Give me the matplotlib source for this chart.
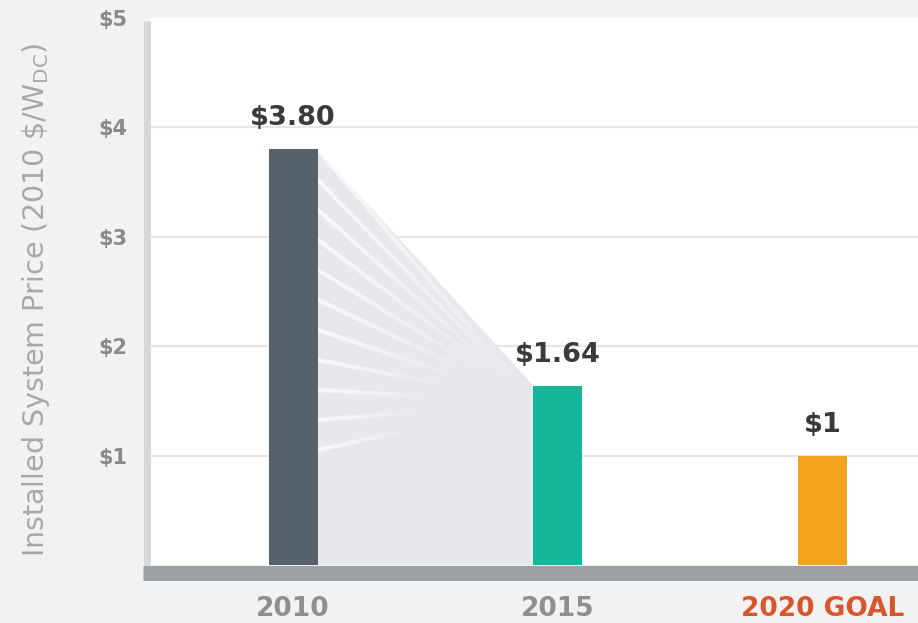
import numpy as np
import matplotlib
matplotlib.use("Agg")
import matplotlib.pyplot as plt
from matplotlib.collections import LineCollection
from matplotlib.lines import Line2D

# Installed PV system price, 2010 $/W_DC
categories = ["2010", "2015", "2020 GOAL"]
prices = [3.80, 1.64, 1.00]
value_labels = ["$3.80", "$1.64", "$1"]
bar_colors = ["#56616b", "#14b79a", "#f5a21f"]
tick_colors = ["#8e8f91", "#8e8f91", "#d9552c"]
y_ticks = [1, 2, 3, 4, 5]
y_tick_labels = ["$1", "$2", "$3", "$4", "$5"]

W, H = 918, 623
fig = plt.figure(figsize=(W / 100, H / 100), dpi=100)
fig.patch.set_facecolor("#f2f2f2")

left, right, top, bottom = 150, 918, 18, 565
ax = fig.add_axes([left / W, 1 - bottom / H, (right - left) / W, (bottom - top) / H])
ax.set_facecolor("white")

x = np.arange(len(categories))
bar_w = 0.185
ax.set_xlim(-0.54, 2.36)
ax.set_ylim(0, 4.97)

# gridlines
for t in y_ticks[:-1]:
    ax.axhline(t, color="#e6e6e6", lw=1.6, zorder=0)

# shaded drop between 2010 and 2015
x0 = x[0] + bar_w / 2
x1 = x[1] - bar_w / 2
ax.fill([x0, x1, x1, x0], [prices[0], prices[1], 0, 0],
        color="#e6e8eb", lw=0, zorder=1)

# fading light streaks fanning out from the 2010 bar
starts = np.linspace(prices[0], 1.05, 11)
target = (x1, prices[1] - 0.15)
segs, cols = [], []
n = 40
for i, s in enumerate(starts):
    frac = 1.0 - 0.55 * i / (len(starts) - 1)
    xs = np.linspace(x0, x0 + (target[0] - x0) * frac, n + 1)
    ys = s + (target[1] - s) * (xs - x0) / (target[0] - x0)
    for k in range(n):
        segs.append([(xs[k], ys[k]), (xs[k + 1], ys[k + 1])])
        a = 0.75 * (1 - k / n)
        cols.append((1, 1, 1, a))
ax.add_collection(LineCollection(segs, colors=cols, linewidths=3.0, zorder=2))

# bars
ax.bar(x, prices, width=bar_w, color=bar_colors, zorder=3)

value_font = dict(family="DejaVu Sans", fontweight="bold", fontsize=19.5, color="#3a3a3a")
for xi, p, lab in zip(x, prices, value_labels):
    ax.annotate(lab, (xi, p), xytext=(0, 13), textcoords="offset points",
                ha="center", va="bottom", **value_font)

# axes styling
for s in ["top", "right", "bottom"]:
    ax.spines[s].set_visible(False)
ax.spines["left"].set_color("#d6d8da")
ax.spines["left"].set_linewidth(7 * 0.72)
ax.spines["left"].set_position(("outward", 3.5 * 0.72))
ax.spines["left"].set_capstyle("butt")
ax.spines["left"].set_bounds(-0.13, 4.97)

# heavy baseline bar running under the plot
fig.add_artist(Line2D([143 / W, 1.0], [1 - 572.5 / H] * 2, transform=fig.transFigure,
                      color="#9ba1a5", lw=15 * 0.72, solid_capstyle="butt", zorder=5))

ax.set_xticks(x)
ax.set_xticklabels(categories)
for lbl, c in zip(ax.get_xticklabels(), tick_colors):
    lbl.set_color(c)
    lbl.set_fontfamily("DejaVu Sans")
    lbl.set_fontweight("bold")
    lbl.set_fontsize(19)
ax.tick_params(axis="x", length=0, pad=22)

ax.set_yticks(y_ticks)
ax.set_yticklabels(y_tick_labels)
for lbl in ax.get_yticklabels():
    lbl.set_color("#8a8a8a")
    lbl.set_fontfamily("DejaVu Sans")
    lbl.set_fontweight("bold")
    lbl.set_fontsize(15)
ax.tick_params(axis="y", length=0, pad=14)

fig.text(36 / W, 1 - 300 / H, "Installed System Price (2010 \\$/W$_{\\mathregular{DC}}$)",
         rotation=90, ha="center", va="center", fontsize=20.5, color="#a8a8a8",
         family="DejaVu Sans")

fig.savefig("out.png", dpi=100, facecolor=fig.get_facecolor())
